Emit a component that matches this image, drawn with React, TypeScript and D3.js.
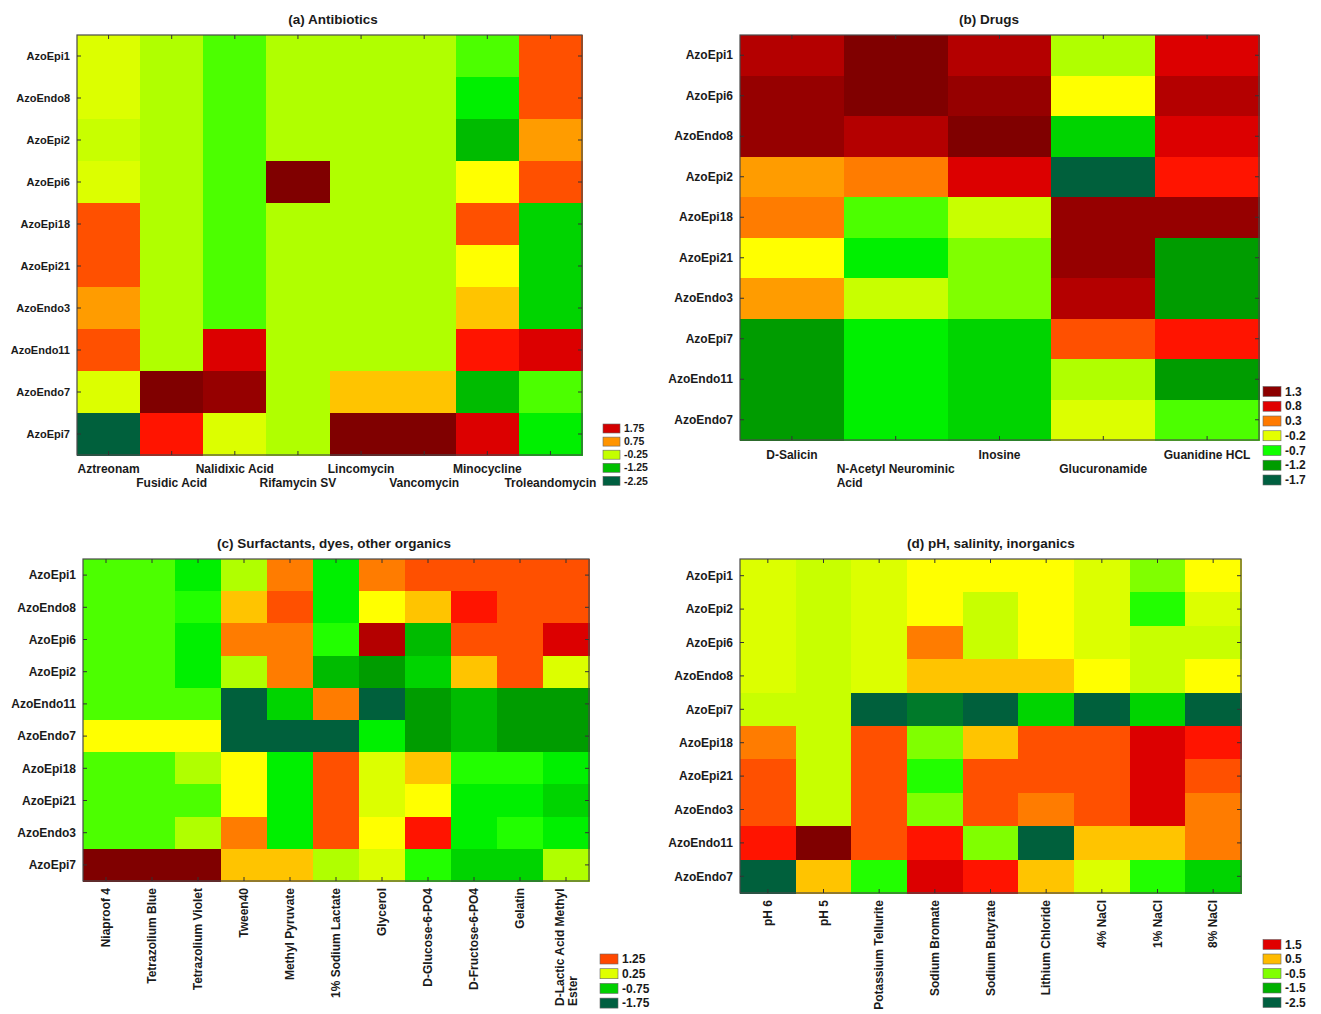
import React from 'react';
import * as d3 from 'd3';

// ---------- colour levels (shared contour scale) ----------
const PALETTE = [
  '#00603c', '#007a2a', '#009c00', '#00bb00', '#00d400', '#00f000', '#22ff00',
  '#4cff00', '#80ff00', '#b0ff00', '#c8ff00', '#dcff00', '#ffff00', '#ffc400',
  '#ff9c00', '#ff7c00', '#ff5000', '#ff1400', '#dc0000', '#b40000', '#960000', '#800000',
];
const LEVELS = d3.range(-2.5, 2.75, 0.25);

// ---------- (a) Antibiotics ----------
const rowsA = ['AzoEpi1', 'AzoEndo8', 'AzoEpi2', 'AzoEpi6', 'AzoEpi18', 'AzoEpi21', 'AzoEndo3', 'AzoEndo11', 'AzoEndo7', 'AzoEpi7'];
const colsA = ['Aztreonam', 'Fusidic Acid', 'Nalidixic Acid', 'Rifamycin SV', 'Lincomycin', 'Vancomycin', 'Minocycline', 'Troleandomycin'];
const valuesA = [
  [0.1, -0.4, -0.9, -0.4, -0.4, -0.4, -0.9, 1.4],
  [0.1, -0.4, -0.9, -0.4, -0.4, -0.4, -1.4, 1.4],
  [-0.1, -0.4, -0.9, -0.4, -0.4, -0.4, -1.9, 0.9],
  [0.1, -0.4, -0.9, 2.6, -0.4, -0.4, 0.4, 1.4],
  [1.4, -0.4, -0.9, -0.4, -0.4, -0.4, 1.4, -1.6],
  [1.4, -0.4, -0.9, -0.4, -0.4, -0.4, 0.4, -1.6],
  [0.9, -0.4, -0.9, -0.4, -0.4, -0.4, 0.6, -1.6],
  [1.4, -0.4, 1.9, -0.4, -0.4, -0.4, 1.6, 1.9],
  [0.1, 2.6, 2.4, -0.4, 0.6, 0.6, -1.9, -0.9],
  [-2.6, 1.6, 0.1, -0.4, 2.6, 2.6, 1.9, -1.4],
];
const legendLabelsA = ['1.75', '0.75', '-0.25', '-1.25', '-2.25'];
const legendColorsA = ['#d40000', '#ff9400', '#c4ff00', '#00c000', '#005f40'];

// ---------- (b) Drugs ----------
const rowsB = ['AzoEpi1', 'AzoEpi6', 'AzoEndo8', 'AzoEpi2', 'AzoEpi18', 'AzoEpi21', 'AzoEndo3', 'AzoEpi7', 'AzoEndo11', 'AzoEndo7'];
const colsB = ['D-Salicin', 'N-Acetyl Neurominic\nAcid', 'Inosine', 'Glucuronamide', 'Guanidine HCL'];
const valuesB = [
  [2.1, 2.6, 2.1, -0.4, 1.9],
  [2.4, 2.6, 2.4, 0.4, 2.1],
  [2.4, 2.1, 2.6, -1.6, 1.9],
  [0.9, 1.1, 1.9, -2.6, 1.6],
  [1.1, -0.9, -0.1, 2.4, 2.4],
  [0.4, -1.4, -0.6, 2.4, -2.1],
  [0.9, -0.1, -0.6, 2.1, -2.1],
  [-2.1, -1.4, -1.6, 1.4, 1.6],
  [-2.1, -1.4, -1.6, -0.4, -2.1],
  [-2.1, -1.4, -1.6, 0.1, -0.9],
];
const legendLabelsB = ['1.3', '0.8', '0.3', '-0.2', '-0.7', '-1.2', '-1.7'];
const legendColorsB = ['#8c0000', '#e00000', '#ff7a00', '#e4ff00', '#10ff00', '#009c00', '#005f40'];

// ---------- (c) Surfactants, dyes, other organics ----------
const rowsC = ['AzoEpi1', 'AzoEndo8', 'AzoEpi6', 'AzoEpi2', 'AzoEndo11', 'AzoEndo7', 'AzoEpi18', 'AzoEpi21', 'AzoEndo3', 'AzoEpi7'];
const colsC = ['Niaproof 4', 'Tetrazolium Blue', 'Tetrazolium Violet', 'Tween40', 'Methyl Pyruvate', '1% Sodium Lactate', 'Glycerol', 'D-Glucose-6-PO4', 'D-Fructose-6-PO4', 'Gelatin', 'D-Lactic Acid Methyl\nEster'];
const valuesC = [
  [-0.9, -0.9, -1.4, -0.4, 1.1, -1.4, 1.1, 1.4, 1.4, 1.4, 1.4],
  [-0.9, -0.9, -1.1, 0.6, 1.4, -1.4, 0.4, 0.6, 1.6, 1.4, 1.4],
  [-0.9, -0.9, -1.4, 1.1, 1.1, -1.1, 2.1, -1.9, 1.4, 1.4, 1.9],
  [-0.9, -0.9, -1.4, -0.4, 1.1, -1.9, -2.1, -1.6, 0.6, 1.4, 0.1],
  [-0.9, -0.9, -0.9, -2.6, -1.6, 1.1, -2.6, -2.1, -1.9, -2.1, -2.1],
  [0.4, 0.4, 0.4, -2.6, -2.6, -2.6, -1.4, -2.1, -1.9, -2.1, -2.1],
  [-0.9, -0.9, -0.4, 0.4, -1.4, 1.4, 0.1, 0.6, -1.1, -1.1, -1.4],
  [-0.9, -0.9, -0.9, 0.4, -1.4, 1.4, 0.1, 0.4, -1.4, -1.4, -1.6],
  [-0.9, -0.9, -0.4, 1.1, -1.4, 1.4, 0.4, 1.6, -1.4, -1.1, -1.4],
  [2.6, 2.6, 2.6, 0.6, 0.6, -0.4, 0.1, -1.1, -1.6, -1.6, -0.4],
];
const legendLabelsC = ['1.25', '0.25', '-0.75', '-1.75'];
const legendColorsC = ['#ff4800', '#e0ff00', '#00d000', '#005f40'];

// ---------- (d) pH, salinity, inorganics ----------
const rowsD = ['AzoEpi1', 'AzoEpi2', 'AzoEpi6', 'AzoEndo8', 'AzoEpi7', 'AzoEpi18', 'AzoEpi21', 'AzoEndo3', 'AzoEndo11', 'AzoEndo7'];
const colsD = ['pH 6', 'pH 5', 'Potassium Tellurite', 'Sodium Bromate', 'Sodium Butyrate', 'Lithium Chloride', '4% NaCl', '1% NaCl', '8% NaCl'];
const valuesD = [
  [0.1, -0.1, 0.1, 0.4, 0.4, 0.4, 0.1, -0.6, 0.4],
  [0.1, -0.1, 0.1, 0.4, -0.1, 0.4, 0.1, -1.1, 0.1],
  [0.1, -0.1, 0.1, 1.1, -0.1, 0.4, 0.1, -0.1, -0.1],
  [0.1, -0.1, 0.1, 0.6, 0.6, 0.6, 0.4, -0.1, 0.4],
  [-0.1, -0.1, -2.6, -2.4, -2.6, -1.6, -2.6, -1.6, -2.6],
  [1.1, -0.1, 1.4, -0.6, 0.6, 1.4, 1.4, 1.9, 1.6],
  [1.4, -0.1, 1.4, -1.1, 1.4, 1.4, 1.4, 1.9, 1.4],
  [1.4, -0.1, 1.4, -0.6, 1.4, 1.1, 1.4, 1.9, 1.1],
  [1.6, 2.6, 1.4, 1.6, -0.6, -2.6, 0.6, 0.6, 1.1],
  [-2.6, 0.6, -1.1, 1.9, 1.6, 0.6, 0.1, -1.1, -1.6],
];
const legendLabelsD = ['1.5', '0.5', '-0.5', '-1.5', '-2.5'];
const legendColorsD = ['#e00000', '#ffbb00', '#80ff00', '#00b000', '#005f40'];

// ---------- helpers ----------
const FONT = "'Liberation Sans', Arial, Helvetica, sans-serif";
const TEXT = '#1a1a1a';
let ctx: CanvasRenderingContext2D | null = null;
function textWidth(t: string, size: number): number {
  if (!ctx && typeof document !== 'undefined') ctx = document.createElement('canvas').getContext('2d');
  if (!ctx) return t.length * size * 0.6;
  ctx.font = `bold ${size}px ${FONT}`;
  return ctx.measureText(t).width;
}

type Panel = {
  title: string;
  titleX: number;
  titleY: number;
  rows: string[];
  cols: string[];
  values: number[][];
  box: { x0: number; x1: number; y0: number; y1: number };
  rowFont: number;
  colFont: number;
  labelMode: 'stagger' | 'rotate';
  staggerY?: number[];
  pattern?: number[];
  rotTop?: number;
  legend: { labels: string[]; colors: string[]; x: number; w: number; h: number; cy0: number; step: number; font: number };
};

const color = d3.scaleThreshold<number, string>().domain(LEVELS).range(PALETTE);

function HeatPanel({ p }: { p: Panel }) {
  const { x0, x1, y0, y1 } = p.box;
  const x = d3.scaleBand<string>().domain(p.cols).range([x0, x1]);
  const y = d3.scaleBand<string>().domain(p.rows).range([y0, y1]);
  const bw = x.bandwidth();
  const bh = y.bandwidth();
  const tick = 4;

  return (
    <g>
      <text x={p.titleX} y={p.titleY} textAnchor="middle" fontWeight="bold" fontSize={13.5} fill={TEXT}>
        {p.title}
      </text>
      <g shapeRendering="crispEdges">
        {p.values.map((row, ri) =>
          row.map((v, ci) => (
            <rect
              key={`${ri}-${ci}`}
              x={x(p.cols[ci])!}
              y={y(p.rows[ri])!}
              width={bw + 0.6}
              height={bh + 0.6}
              fill={color(v)}
            />
          ))
        )}
      </g>
      <rect x={x0} y={y0} width={x1 - x0} height={y1 - y0} fill="none" stroke="#4a4a4a" strokeWidth={1.2} />
      {/* inner ticks */}
      <g stroke="#333" strokeWidth={1}>
        {p.cols.map((c) => {
          const cx = x(c)! + bw / 2;
          return (
            <g key={c}>
              <line x1={cx} x2={cx} y1={y0} y2={y0 + tick} />
              <line x1={cx} x2={cx} y1={y1} y2={y1 - tick} />
            </g>
          );
        })}
        {p.rows.map((r) => {
          const cy = y(r)! + bh / 2;
          return (
            <g key={r}>
              <line x1={x0} x2={x0 + tick} y1={cy} y2={cy} />
              <line x1={x1} x2={x1 - tick} y1={cy} y2={cy} />
            </g>
          );
        })}
      </g>
      {/* row labels */}
      {p.rows.map((r) => (
        <text key={r} x={x0 - 7} y={y(r)! + bh / 2} dy="0.35em" textAnchor="end" fontWeight="bold" fontSize={p.rowFont} fill={TEXT}>
          {r}
        </text>
      ))}
      {/* column labels */}
      {p.cols.map((c, i) => {
        const cx = x(c)! + bw / 2;
        const lines = c.split('\n');
        if (p.labelMode === 'stagger') {
          const cy = p.staggerY![p.pattern![i]];
          if (lines.length === 1) {
            return (
              <text key={c} x={cx} y={cy} dy="0.35em" textAnchor="middle" fontWeight="bold" fontSize={p.colFont} fill={TEXT}>
                {c}
              </text>
            );
          }
          const left = cx - textWidth(lines[0], p.colFont) / 2;
          return (
            <g key={c}>
              {lines.map((l, li) => (
                <text key={li} x={left} y={cy + li * 14} dy="0.35em" textAnchor="start" fontWeight="bold" fontSize={p.colFont} fill={TEXT}>
                  {l}
                </text>
              ))}
            </g>
          );
        }
        const top = p.rotTop!;
        if (lines.length === 1) {
          return (
            <text key={c} transform={`translate(${cx},${top}) rotate(-90)`} dy="0.35em" textAnchor="end" fontWeight="bold" fontSize={p.colFont} fill={TEXT}>
              {c}
            </text>
          );
        }
        const bottom = top + textWidth(lines[0], p.colFont);
        return (
          <g key={c}>
            {lines.map((l, li) => (
              <text
                key={li}
                transform={`translate(${cx + (li - (lines.length - 1) / 2) * 13},${bottom}) rotate(-90)`}
                dy="0.35em"
                textAnchor="start"
                fontWeight="bold"
                fontSize={p.colFont}
                fill={TEXT}
              >
                {l}
              </text>
            ))}
          </g>
        );
      })}
      {/* legend */}
      {p.legend.labels.map((l, i) => {
        const cy = p.legend.cy0 + i * p.legend.step;
        return (
          <g key={l}>
            <rect x={p.legend.x} y={cy - p.legend.h / 2} width={p.legend.w} height={p.legend.h} fill={p.legend.colors[i]} stroke="#666" strokeWidth={0.6} />
            <text x={p.legend.x + p.legend.w + 4} y={cy} dy="0.35em" fontWeight="bold" fontSize={p.legend.font} fill={TEXT}>
              {l}
            </text>
          </g>
        );
      })}
    </g>
  );
}

const panels: Panel[] = [
  {
    title: '(a) Antibiotics', titleX: 333, titleY: 24,
    rows: rowsA, cols: colsA, values: valuesA,
    box: { x0: 77, x1: 582, y0: 35, y1: 455 },
    rowFont: 11, colFont: 12, labelMode: 'stagger', staggerY: [469, 483], pattern: [0, 1, 0, 1, 0, 1, 0, 1],
    legend: { labels: legendLabelsA, colors: legendColorsA, x: 603, w: 17, h: 9, cy0: 428.5, step: 13.1, font: 10.5 },
  },
  {
    title: '(b) Drugs', titleX: 989, titleY: 24,
    rows: rowsB, cols: colsB, values: valuesB,
    box: { x0: 740, x1: 1259, y0: 35, y1: 440 },
    rowFont: 12, colFont: 12, labelMode: 'stagger', staggerY: [455, 469], pattern: [0, 1, 0, 1, 0],
    legend: { labels: legendLabelsB, colors: legendColorsB, x: 1263, w: 18, h: 10, cy0: 391.5, step: 14.75, font: 12 },
  },
  {
    title: '(c) Surfactants, dyes, other organics', titleX: 334, titleY: 548,
    rows: rowsC, cols: colsC, values: valuesC,
    box: { x0: 83, x1: 589, y0: 559, y1: 881 },
    rowFont: 12, colFont: 12, labelMode: 'rotate', rotTop: 888,
    legend: { labels: legendLabelsC, colors: legendColorsC, x: 600, w: 18, h: 10, cy0: 959, step: 14.7, font: 12 },
  },
  {
    title: '(d) pH, salinity, inorganics', titleX: 991, titleY: 548,
    rows: rowsD, cols: colsD, values: valuesD,
    box: { x0: 740, x1: 1241, y0: 559, y1: 893 },
    rowFont: 12, colFont: 12, labelMode: 'rotate', rotTop: 900,
    legend: { labels: legendLabelsD, colors: legendColorsD, x: 1263, w: 18, h: 10, cy0: 944.5, step: 14.5, font: 12 },
  },
];

export default function App() {
  return (
    <svg
      width={1321}
      height={1014}
      viewBox="0 0 1321 1014"
      style={{ position: 'absolute', left: 0, top: 0, background: '#ffffff', display: 'block' }}
      fontFamily={FONT}
    >
      <rect x={0} y={0} width={1321} height={1014} fill="#ffffff" />
      {panels.map((p) => (
        <HeatPanel key={p.title} p={p} />
      ))}
    </svg>
  );
}
